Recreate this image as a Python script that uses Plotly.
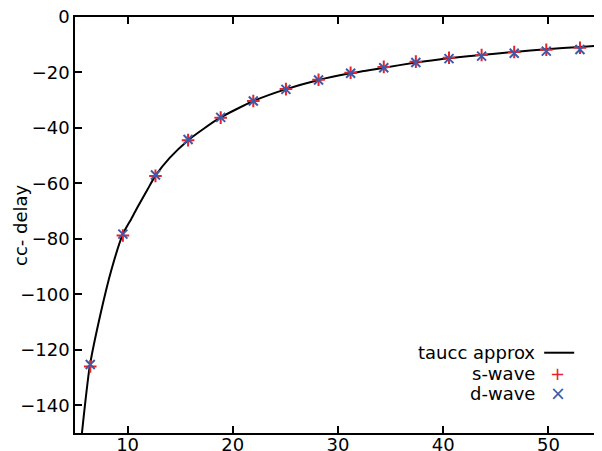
import plotly.graph_objects as go

# Curve "taucc approx"
curve_x = [5.66, 6.4, 7.43, 8.45, 9.55, 10.35, 10.98, 11.92, 12.65, 14.0, 15.76, 17.3, 18.8,
           21.96, 25.0, 28.16, 31.17, 34.37, 37.4, 39.6, 40.5, 43.6, 46.75, 49.8, 53.0, 55.0]
curve_y = [-150.0, -126.0, -107.0, -91.3, -78.3, -72.8, -68.3, -62.0, -57.2, -50.8, -44.4, -40.1, -36.3,
           -30.3, -26.1, -22.7, -20.3, -18.3, -16.4, -15.3, -14.9, -13.7, -12.6, -11.6, -10.8, -10.3]

# Data points
pts_x = [6.45, 9.55, 12.65, 15.75, 18.85, 21.95, 25.05, 28.15, 31.2, 34.35, 37.4, 40.55,
         43.65, 46.75, 49.8, 53.0]
s_wave = [-126.0, -78.8, -57.3, -44.4, -36.3, -30.3, -26.0, -22.6, -20.1, -18.0, -16.1, -14.7,
          -13.7, -12.6, -11.8, -11.1]
d_wave = [-125.3, -78.3, -57.0, -44.2, -36.2, -30.3, -26.1, -22.7, -20.3, -18.3, -16.4, -15.0,
          -14.1, -13.1, -12.3, -11.7]

x_ticks = [10, 20, 30, 40, 50]
y_ticks = [0, -20, -40, -60, -80, -100, -120, -140]

RED = "#e8212a"
BLUE = "#3d5aa8"
FONT = "DejaVu Sans"
FS = 18

fig = go.Figure()
fig.add_trace(go.Scatter(x=curve_x, y=curve_y, mode="lines",
                         line=dict(color="black", width=2, shape="spline", smoothing=0.6),
                         name="taucc approx", showlegend=False))
fig.add_trace(go.Scatter(x=pts_x, y=s_wave, mode="markers", name="s-wave", showlegend=False,
                         marker=dict(symbol="cross-thin", size=9, line=dict(color=RED, width=2))))
fig.add_trace(go.Scatter(x=pts_x, y=d_wave, mode="markers", name="d-wave", showlegend=False,
                         marker=dict(symbol="x-thin", size=9, line=dict(color=BLUE, width=2))))

axis_common = dict(showline=True, linecolor="black", linewidth=1.5, mirror="ticks",
                   ticks="inside", ticklen=7, tickwidth=1.5, tickcolor="black",
                   showgrid=False, zeroline=False, automargin=False,
                   ticklabeloverflow="allow",
                   tickfont=dict(family=FONT, size=FS, color="black"))

fig.update_xaxes(range=[5, 55], tickvals=x_ticks, **axis_common)
fig.update_yaxes(range=[-150, 0], tickvals=y_ticks, **axis_common)
try:
    fig.update_xaxes(ticklabelstandoff=-5)
except Exception:
    pass

# page body has an 8px margin: figure is shifted by (8, 8) in the window
W, H = 594, 443
L, R, T, B = 67, 1, 9, 18
pw = W - L - R

# y-axis title
fig.add_annotation(x=(12 - L) / pw, y=0.5, xref="paper", yref="paper", text="cc- delay",
                   showarrow=False, textangle=-90, xanchor="center", yanchor="middle",
                   font=dict(family=FONT, size=FS, color="black"))

# manual gnuplot-style legend
leg_x_text = 0.878
rows = [("taucc approx", 0.193), ("s-wave", 0.1435), ("d-wave", 0.0954)]
for txt, yy in rows:
    fig.add_annotation(x=leg_x_text, y=yy, xref="paper", yref="paper", text=txt, showarrow=False,
                       xanchor="right", yanchor="middle", font=dict(family=FONT, size=FS, color="black"))
fig.add_shape(type="line", xref="paper", yref="paper", x0=0.892, x1=0.949, y0=0.193, y1=0.193,
              line=dict(color="black", width=2))
fig.add_annotation(x=0.918, y=0.1435, xref="paper", yref="paper", text="+", showarrow=False,
                   xanchor="center", yanchor="middle", font=dict(family=FONT, size=18, color=RED))
fig.add_annotation(x=0.918, y=0.0954, xref="paper", yref="paper", text="×", showarrow=False,
                   xanchor="center", yanchor="middle", font=dict(family=FONT, size=19, color=BLUE))

fig.update_layout(width=W, height=H, margin=dict(l=L, r=R, t=T, b=B),
                  plot_bgcolor="white", paper_bgcolor="white",
                  font=dict(family=FONT, size=FS, color="black"))

fig.write_html("out.html")
